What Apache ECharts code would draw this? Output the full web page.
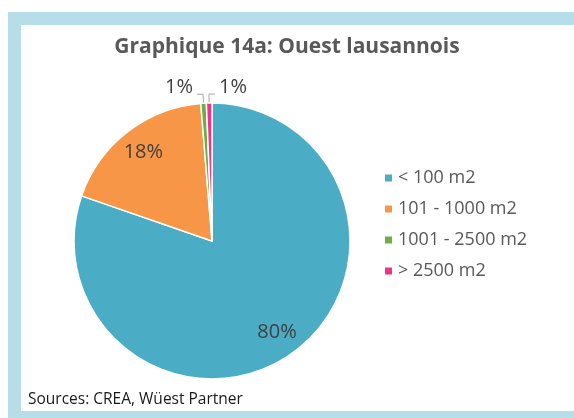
<!DOCTYPE html>
<html><head><meta charset="utf-8">
<script src="https://cdn.jsdelivr.net/npm/echarts@6/dist/echarts.min.js"></script>
<style>html,body{margin:0;padding:0;background:#fff}#c{width:574px;height:418px}</style>
</head><body><div id="c"></div>
<script>
const categories = ['< 100 m2', '101 - 1000 m2', '1001 - 2500 m2', '> 2500 m2'];
const values = [80.3, 18.4, 0.65, 0.65];
const colors = ['#4bacc6', '#f79646', '#70ad47', '#f0328c'];
const titleText = 'Graphique 14a: Ouest lausannois';
const sourceText = 'Sources: CREA, Wüest Partner';

const FONT = '"Open Sans", sans-serif';
const chart = echarts.init(document.getElementById('c'), null, {renderer: 'canvas'});
const data = categories.map((n, i) => ({name: n, value: values[i], itemStyle: {color: colors[i]},
  label: {show: i >= 2}, labelLine: {show: i >= 2}}));
const center = [212, 241];
const R = 138;

chart.setOption({
  backgroundColor: '#ffffff',
  animation: false,
  title: {text: titleText, left: 'center', top: 32,
    textStyle: {fontFamily: FONT, fontWeight: 'bold', fontSize: 21, color: '#595959'}},
  legend: {orient: 'vertical', left: 378, top: 164, icon: 'rect', itemWidth: 9, itemHeight: 9,
    itemGap: 13, data: categories,
    textStyle: {fontFamily: FONT, fontSize: 18, color: '#595959'}},
  graphic: [
    {type: 'rect', shape: {x: 8, y: 12, width: 566, height: 13}, style: {fill: '#b7dde8'}, silent: true},
    {type: 'rect', shape: {x: 8, y: 12, width: 13, height: 406}, style: {fill: '#b7dde8'}, silent: true},
    {type: 'rect', shape: {x: 8, y: 411, width: 566, height: 7}, style: {fill: '#b7dde8'}, silent: true},
    {type: 'text', left: 28, top: 392, style: {text: sourceText, fontFamily: FONT, fontSize: 15.5, fill: '#1a1a1a'}}
  ],
  series: [
    {
      type: 'pie', center: center, radius: [0, R], startAngle: 90, clockwise: true,
      percentPrecision: 0, avoidLabelOverlap: false,
      data: data,
      itemStyle: {borderColor: '#ffffff', borderWidth: 1.5},
      label: {position: 'outside', formatter: '{d}%', fontFamily: FONT, fontSize: 20, color: '#404040'},
      labelLine: {length: 9, length2: 6, lineStyle: {color: '#a6a6a6', width: 1}},
      emphasis: {disabled: true},
      labelLayout: function (p) {
        if (p.dataIndex < 2 || !p.labelLinePoints) return {};
        const pts = p.labelLinePoints.map(a => a.slice());
        if (p.dataIndex === 3) {
          pts[2][0] = 2 * pts[1][0] - pts[2][0];
          pts[2][1] = pts[1][1];
          return {x: pts[2][0] + 4, y: pts[2][1] - 7, align: 'left', verticalAlign: 'middle', labelLinePoints: pts};
        }
        pts[2][1] = pts[1][1];
        return {x: pts[2][0] - 4, y: pts[2][1] - 7, align: 'right', verticalAlign: 'middle', labelLinePoints: pts};
      },
      z: 2
    },
    {
      type: 'pie', center: center, radius: [80, R], startAngle: 90, clockwise: true,
      percentPrecision: 0, silent: true,
      data: data.map((d, i) => ({name: d.name, value: d.value,
        itemStyle: {color: 'rgba(0,0,0,0)'},
        label: {show: i < 2}})),
      label: {position: 'inside', formatter: '{d}%', fontFamily: FONT, fontSize: 20, color: '#404040'},
      labelLine: {show: false},
      emphasis: {disabled: true},
      legendHoverLink: false,
      z: 3
    }
  ]
});
</script></body></html>
